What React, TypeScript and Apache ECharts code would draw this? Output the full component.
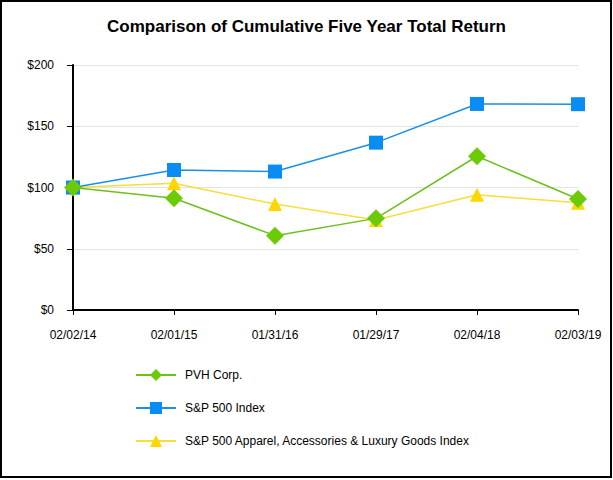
import React, { useEffect, useRef } from "react";
import * as echarts from "echarts";

const categories = ["02/02/14", "02/01/15", "01/31/16", "01/29/17", "02/04/18", "02/03/19"];
const pvh = [100, 91.2, 60.7, 74.8, 125.5, 90.6];
const sp500 = [100, 114.3, 113.0, 136.6, 168.2, 168.0];
const apparel = [100, 103.4, 86.5, 73.5, 94.0, 87.6];
const yTicks = [0, 50, 100, 150, 200];

export default function App() {
  const ref = useRef<HTMLDivElement>(null);
  useEffect(() => {
    const chart = echarts.init(ref.current!, null, { renderer: "svg" });
    const font = "'Liberation Sans', Arial, sans-serif";
    chart.setOption({
      animation: false,
      backgroundColor: "#fff",
      textStyle: { fontFamily: font },
      title: {
        text: "Comparison of Cumulative Five Year Total Return",
        left: "center",
        top: 13,
        textStyle: { fontSize: 17, fontWeight: "bold", color: "#000", fontFamily: font },
      },
      graphic: [
        {
          type: "rect",
          shape: { x: 1, y: 1, width: 610, height: 476 },
          style: { fill: "none", stroke: "#000", lineWidth: 2 },
          silent: true,
        },
      ],
      legend: {
        orient: "vertical",
        left: 130,
        top: 364,
        itemWidth: 40,
        itemHeight: 15,
        itemGap: 21,
        textStyle: { fontSize: 12, color: "#000", fontFamily: font, padding: [0, 0, 0, 4] },
        data: ["PVH Corp.", "S&P 500 Index", "S&P 500 Apparel, Accessories & Luxury Goods Index"],
      },
      grid: { left: 73, right: 35, top: 65, bottom: 170, containLabel: false },
      xAxis: {
        type: "category",
        data: categories,
        boundaryGap: false,
        axisLine: { lineStyle: { color: "#000", width: 2 } },
        axisTick: { show: true, length: 5, lineStyle: { color: "#000", width: 1 } },
        axisLabel: { color: "#000", fontSize: 12, margin: 19, fontFamily: font },
        splitLine: { show: false },
      },
      yAxis: {
        type: "value",
        min: 0,
        max: 200,
        interval: 50,
        axisLine: { show: true, lineStyle: { color: "#000", width: 2 } },
        axisTick: { show: true, length: 6, lineStyle: { color: "#000", width: 1 } },
        axisLabel: {
          color: "#000",
          fontSize: 12,
          margin: 19,
          fontFamily: font,
          formatter: (v: number) => (yTicks.includes(v) ? "$" + v : ""),
        },
        splitLine: { show: true, lineStyle: { color: "#e3e3e3", width: 1 } },
      },
      series: [
        {
          name: "S&P 500 Apparel, Accessories & Luxury Goods Index",
          type: "line",
          data: apparel,
          symbol: "triangle",
          symbolSize: 14,
          z: 2,
          lineStyle: { color: "#f7de3a", width: 1.5 },
          itemStyle: { color: "#ffd700" },
        },
        {
          name: "S&P 500 Index",
          type: "line",
          data: sp500,
          symbol: "rect",
          symbolSize: 14,
          z: 3,
          lineStyle: { color: "#1a8fe8", width: 1.5 },
          itemStyle: { color: "#0a8cf5" },
        },
        {
          name: "PVH Corp.",
          type: "line",
          data: pvh,
          symbol: "diamond",
          symbolSize: 18,
          z: 4,
          lineStyle: { color: "#6dc01a", width: 1.5 },
          itemStyle: { color: "#6ccb06" },
        },
      ],
    });
    return () => chart.dispose();
  }, []);
  return (
    <div
      ref={ref}
      style={{ position: "fixed", left: 0, top: 0, width: 613, height: 480 }}
    />
  );
}
